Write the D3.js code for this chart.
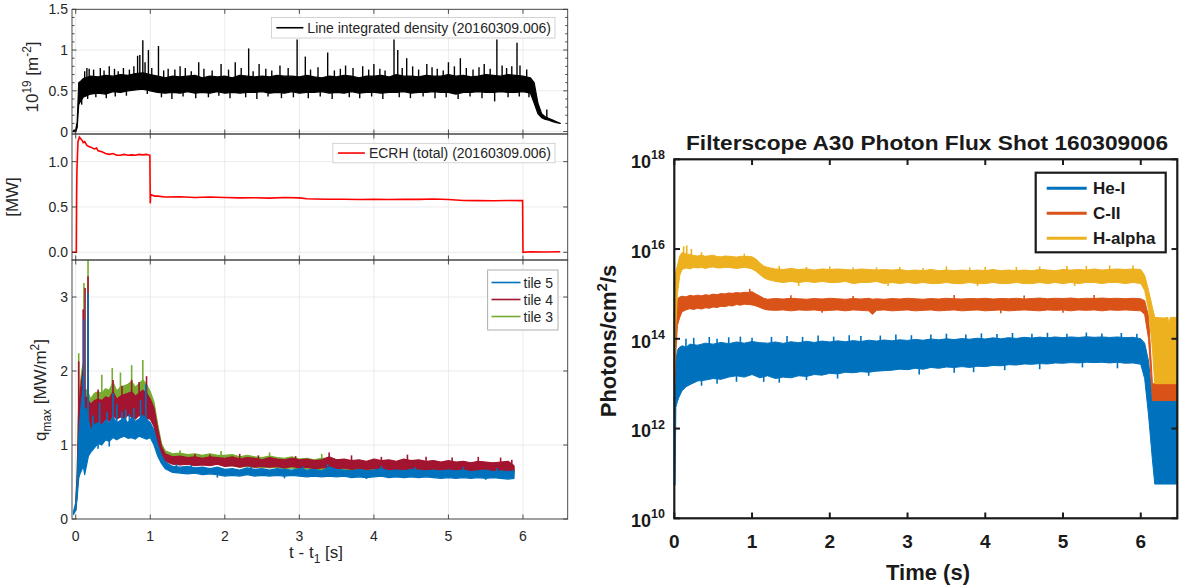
<!DOCTYPE html>
<html>
<head>
<meta charset="utf-8">
<script src="https://cdn.jsdelivr.net/npm/d3@7"></script>
<style>
  body { margin: 0; background: #fff; }
  svg { display: block; }
</style>
</head>
<body>
<svg width="1184" height="585"></svg>
<script>
// ---------------- data: left figure ----------------
const xTicksL = [0, 1, 2, 3, 4, 5, 6];
const densTicks = [0, 0.5, 1, 1.5];
const densTickLabels = ["0", "0.5", "1", "1.5"];
const ecrhTicks = [0, 0.5, 1];
const ecrhTickLabels = ["0.0", "0.5", "1.0"];
const qTicks = [0, 1, 2, 3];
const qTickLabels = ["0", "1", "2", "3"];

// line integrated density: [t, low, high] of the dense core of the noisy trace
const densBand = [
  [-0.03, 0, 0.015], [0.0, 0, 0.02], [0.02, 0.05, 0.12], [0.04, 0.33, 0.6], [0.07, 0.38, 0.62],
  [0.1, 0.42, 0.65], [0.2, 0.46, 0.68], [0.3, 0.47, 0.67], [0.4, 0.46, 0.69], [0.5, 0.49, 0.68],
  [0.6, 0.48, 0.7], [0.7, 0.5, 0.69], [0.8, 0.51, 0.71], [0.9, 0.52, 0.72], [1.0, 0.5, 0.7],
  [1.1, 0.48, 0.68], [1.2, 0.47, 0.66], [1.3, 0.48, 0.68], [1.4, 0.47, 0.67], [1.5, 0.49, 0.68],
  [1.6, 0.47, 0.69], [1.7, 0.48, 0.66], [1.8, 0.47, 0.68], [1.9, 0.49, 0.67], [2.0, 0.47, 0.68],
  [2.1, 0.48, 0.66], [2.2, 0.47, 0.69], [2.3, 0.48, 0.68], [2.4, 0.48, 0.67], [2.5, 0.49, 0.68],
  [2.6, 0.47, 0.67], [2.7, 0.48, 0.69], [2.8, 0.47, 0.68], [2.9, 0.49, 0.68], [3.0, 0.47, 0.67],
  [3.1, 0.48, 0.69], [3.2, 0.48, 0.67], [3.3, 0.49, 0.66], [3.4, 0.47, 0.68], [3.5, 0.48, 0.67],
  [3.6, 0.47, 0.69], [3.7, 0.49, 0.68], [3.8, 0.47, 0.66], [3.9, 0.48, 0.68], [4.0, 0.48, 0.68],
  [4.1, 0.47, 0.69], [4.2, 0.48, 0.67], [4.3, 0.48, 0.7], [4.4, 0.49, 0.68], [4.5, 0.47, 0.68],
  [4.6, 0.48, 0.67], [4.7, 0.48, 0.69], [4.8, 0.49, 0.68], [4.9, 0.48, 0.68], [5.0, 0.48, 0.7],
  [5.1, 0.46, 0.68], [5.2, 0.48, 0.69], [5.3, 0.48, 0.67], [5.4, 0.49, 0.68], [5.5, 0.48, 0.7],
  [5.6, 0.48, 0.69], [5.7, 0.49, 0.68], [5.8, 0.48, 0.7], [5.9, 0.48, 0.69], [6.0, 0.49, 0.68],
  [6.1, 0.47, 0.66], [6.15, 0.35, 0.6], [6.2, 0.22, 0.35], [6.25, 0.17, 0.22], [6.3, 0.15, 0.18],
  [6.35, 0.14, 0.16], [6.4, 0.12, 0.14], [6.45, 0.11, 0.12], [6.5, 0.1, 0.1]
];
// excursions of the density trace: [t, base, extreme]
const densSpikes = [
  [0.12, 0.6, 0.74], [0.15, 0.6, 0.78], [0.18, 0.6, 0.77], [0.24, 0.6, 0.76], [0.33, 0.6, 0.78],
  [0.38, 0.6, 0.75], [0.45, 0.6, 0.8], [0.52, 0.6, 0.77], [0.57, 0.6, 0.74], [0.64, 0.6, 0.78],
  [0.72, 0.6, 0.76], [0.78, 0.6, 0.8], [0.83, 0.6, 0.93], [0.86, 0.6, 0.94], [0.9, 0.6, 1.12],
  [0.93, 0.6, 0.85], [0.975, 0.6, 1.0], [1.02, 0.6, 0.78], [1.11, 0.6, 1.05], [1.18, 0.6, 0.75],
  [1.24, 0.6, 0.77], [1.33, 0.6, 0.76], [1.4, 0.6, 0.8], [1.47, 0.6, 0.78], [1.55, 0.6, 0.74],
  [1.65, 0.6, 0.85], [1.72, 0.6, 0.77], [1.83, 0.6, 0.75], [1.95, 0.6, 0.83], [2.05, 0.6, 0.76],
  [2.14, 0.6, 0.85], [2.22, 0.6, 0.78], [2.32, 0.6, 1.02], [2.38, 0.6, 0.74], [2.46, 0.6, 0.83],
  [2.55, 0.6, 0.77], [2.63, 0.6, 0.75], [2.74, 0.6, 0.81], [2.85, 0.6, 0.78], [2.97, 0.6, 1.13],
  [3.08, 0.6, 0.92], [3.15, 0.6, 0.76], [3.25, 0.6, 0.79], [3.38, 0.6, 0.97], [3.47, 0.6, 0.75],
  [3.55, 0.6, 0.77], [3.62, 0.6, 0.81], [3.72, 0.6, 0.78], [3.85, 0.6, 0.8], [3.93, 0.6, 0.76],
  [4.0, 0.6, 0.83], [4.08, 0.6, 0.77], [4.15, 0.6, 0.75], [4.27, 0.6, 1.13], [4.32, 0.6, 1.0],
  [4.38, 0.6, 0.78], [4.44, 0.6, 0.9], [4.52, 0.6, 0.8], [4.6, 0.6, 0.76], [4.71, 0.6, 0.83],
  [4.78, 0.6, 0.79], [4.85, 0.6, 0.77], [4.93, 0.6, 0.75], [5.0, 0.6, 0.85], [5.08, 0.6, 0.8],
  [5.16, 0.6, 0.9], [5.24, 0.6, 0.78], [5.33, 0.6, 0.76], [5.41, 0.6, 0.79], [5.48, 0.6, 0.83],
  [5.56, 0.6, 0.77], [5.65, 0.6, 1.13], [5.72, 0.6, 0.81], [5.78, 0.6, 0.78], [5.85, 0.6, 0.8],
  [5.92, 0.6, 1.09], [5.96, 0.6, 0.81], [6.05, 0.6, 0.76], [6.32, 0.15, 0.27],
  [0.08, 0.5, 0.33], [0.16, 0.5, 0.4], [0.27, 0.5, 0.42], [0.41, 0.5, 0.41], [0.53, 0.5, 0.43],
  [0.68, 0.5, 0.44], [0.96, 0.5, 0.46], [1.15, 0.5, 0.42], [1.29, 0.5, 0.4], [1.44, 0.5, 0.43],
  [1.61, 0.5, 0.41], [1.78, 0.5, 0.42], [1.92, 0.5, 0.44], [2.07, 0.5, 0.41], [2.28, 0.5, 0.42],
  [2.43, 0.5, 0.4], [2.58, 0.5, 0.43], [2.76, 0.5, 0.41], [2.92, 0.5, 0.42], [3.12, 0.5, 0.41],
  [3.28, 0.5, 0.43], [3.44, 0.5, 0.4], [3.67, 0.5, 0.42], [3.81, 0.5, 0.41], [3.97, 0.5, 0.43],
  [4.12, 0.5, 0.4], [4.34, 0.5, 0.42], [4.49, 0.5, 0.41], [4.66, 0.5, 0.43], [4.82, 0.5, 0.41],
  [4.97, 0.5, 0.42], [5.13, 0.5, 0.4], [5.29, 0.5, 0.43], [5.45, 0.5, 0.41], [5.62, 0.5, 0.37],
  [5.8, 0.5, 0.42], [5.95, 0.5, 0.43], [6.08, 0.5, 0.42]
];

// ECRH total power: [t, MW]
const ecrh = [
  [-0.05, 0], [0.008, 0], [0.012, 0.6], [0.016, 0.9], [0.03, 1.22], [0.05, 1.27], [0.07, 1.25],
  [0.09, 1.23], [0.1, 1.21], [0.12, 1.22], [0.15, 1.18], [0.17, 1.17], [0.2, 1.16], [0.25, 1.14],
  [0.28, 1.15], [0.3, 1.12], [0.35, 1.11], [0.4, 1.09], [0.45, 1.08], [0.5, 1.09], [0.55, 1.07],
  [0.6, 1.07], [0.65, 1.08], [0.7, 1.07], [0.75, 1.075], [0.8, 1.07], [0.85, 1.08], [0.9, 1.075],
  [0.95, 1.08], [0.995, 1.07], [1.0, 0.54], [1.005, 0.64], [1.03, 0.63], [1.06, 0.62], [1.1, 0.62],
  [1.2, 0.61], [1.4, 0.612], [1.6, 0.605], [1.8, 0.61], [2.0, 0.605], [2.2, 0.6], [2.4, 0.602],
  [2.6, 0.598], [2.8, 0.605], [3.0, 0.6], [3.1, 0.59], [3.2, 0.588], [3.4, 0.585], [3.6, 0.586],
  [3.8, 0.582], [4.0, 0.585], [4.2, 0.583], [4.4, 0.586], [4.6, 0.584], [4.8, 0.588], [5.0, 0.583],
  [5.2, 0.572], [5.4, 0.57], [5.6, 0.568], [5.8, 0.571], [5.995, 0.57], [6.0, 0.0], [6.1, 0.006],
  [6.3, 0.004], [6.5, 0.006]
];

// q_max per tile: [t, low, high] of the noisy traces
const tile5Band = [
  [-0.03, 0.06, 0.1], [0.0, 0.12, 0.22], [0.02, 0.3, 0.5], [0.04, 0.55, 1.1], [0.06, 0.62, 1.4],
  [0.08, 0.66, 1.6], [0.1, 0.72, 1.75], [0.12, 0.6, 1.4], [0.14, 0.7, 1.5], [0.17, 0.85, 1.35],
  [0.2, 0.9, 1.2], [0.25, 0.96, 1.28], [0.3, 1.02, 1.3], [0.35, 1.0, 1.27], [0.4, 1.07, 1.33],
  [0.45, 1.05, 1.3], [0.5, 1.1, 1.38], [0.55, 1.07, 1.3], [0.6, 1.1, 1.33], [0.65, 1.12, 1.36],
  [0.7, 1.09, 1.3], [0.75, 1.1, 1.37], [0.8, 1.08, 1.32], [0.85, 1.12, 1.35], [0.9, 1.1, 1.4],
  [0.95, 1.08, 1.35], [1.0, 1.1, 1.3], [1.05, 1.0, 1.2], [1.1, 0.85, 1.0], [1.15, 0.75, 0.86],
  [1.2, 0.68, 0.77], [1.3, 0.63, 0.71], [1.4, 0.62, 0.7], [1.5, 0.61, 0.71], [1.6, 0.62, 0.69],
  [1.7, 0.6, 0.7], [1.8, 0.61, 0.68], [1.9, 0.6, 0.7], [2.0, 0.58, 0.67], [2.1, 0.59, 0.68],
  [2.2, 0.58, 0.66], [2.3, 0.6, 0.69], [2.4, 0.58, 0.67], [2.5, 0.59, 0.68], [2.6, 0.58, 0.66],
  [2.7, 0.59, 0.68], [2.8, 0.58, 0.67], [2.9, 0.59, 0.66], [3.0, 0.58, 0.68], [3.1, 0.57, 0.66],
  [3.2, 0.58, 0.67], [3.3, 0.57, 0.65], [3.4, 0.58, 0.7], [3.5, 0.57, 0.67], [3.6, 0.58, 0.66],
  [3.7, 0.56, 0.65], [3.8, 0.57, 0.67], [3.9, 0.56, 0.65], [4.0, 0.57, 0.66], [4.1, 0.58, 0.68],
  [4.2, 0.56, 0.65], [4.3, 0.57, 0.66], [4.4, 0.56, 0.65], [4.5, 0.57, 0.67], [4.6, 0.56, 0.66],
  [4.7, 0.57, 0.65], [4.8, 0.56, 0.66], [4.9, 0.55, 0.65], [5.0, 0.56, 0.66], [5.1, 0.55, 0.65],
  [5.2, 0.56, 0.66], [5.3, 0.55, 0.64], [5.4, 0.56, 0.65], [5.5, 0.55, 0.66], [5.6, 0.56, 0.64],
  [5.7, 0.55, 0.65], [5.8, 0.54, 0.64], [5.88, 0.55, 0.65]
];
const tile4Band = [
  [0.0, 0.12, 0.2], [0.02, 0.35, 0.6], [0.04, 0.8, 1.5], [0.06, 0.75, 1.7], [0.08, 0.85, 1.9],
  [0.1, 0.9, 2.0], [0.12, 0.75, 1.6], [0.14, 0.9, 1.65], [0.17, 1.1, 1.6], [0.2, 1.2, 1.55],
  [0.25, 1.25, 1.6], [0.3, 1.3, 1.62], [0.35, 1.28, 1.6], [0.4, 1.35, 1.65], [0.45, 1.32, 1.63],
  [0.5, 1.4, 1.72], [0.55, 1.35, 1.62], [0.6, 1.38, 1.66], [0.65, 1.36, 1.68], [0.7, 1.4, 1.7],
  [0.75, 1.38, 1.72], [0.8, 1.35, 1.66], [0.85, 1.4, 1.7], [0.9, 1.38, 1.74], [0.95, 1.36, 1.7],
  [1.0, 1.35, 1.62], [1.05, 1.25, 1.5], [1.1, 1.0, 1.22], [1.15, 0.86, 0.98], [1.2, 0.78, 0.88],
  [1.3, 0.74, 0.84], [1.4, 0.73, 0.85], [1.5, 0.74, 0.83], [1.6, 0.72, 0.84], [1.7, 0.73, 0.82],
  [1.8, 0.72, 0.84], [1.9, 0.74, 0.83], [2.0, 0.71, 0.82], [2.1, 0.72, 0.84], [2.2, 0.7, 0.81],
  [2.3, 0.72, 0.83], [2.4, 0.7, 0.82], [2.5, 0.71, 0.8], [2.6, 0.7, 0.83], [2.7, 0.71, 0.81],
  [2.8, 0.69, 0.8], [2.9, 0.71, 0.82], [3.0, 0.69, 0.8], [3.1, 0.7, 0.81], [3.2, 0.68, 0.79],
  [3.3, 0.69, 0.8], [3.4, 0.7, 0.84], [3.5, 0.68, 0.8], [3.6, 0.69, 0.81], [3.7, 0.67, 0.79],
  [3.8, 0.68, 0.8], [3.9, 0.67, 0.78], [4.0, 0.68, 0.81], [4.1, 0.66, 0.79], [4.2, 0.67, 0.8],
  [4.3, 0.66, 0.78], [4.4, 0.67, 0.81], [4.5, 0.65, 0.79], [4.6, 0.66, 0.8], [4.7, 0.65, 0.78],
  [4.8, 0.66, 0.79], [4.9, 0.64, 0.77], [5.0, 0.65, 0.79], [5.1, 0.64, 0.77], [5.2, 0.65, 0.78],
  [5.3, 0.64, 0.76], [5.4, 0.65, 0.78], [5.5, 0.63, 0.77], [5.6, 0.64, 0.76], [5.7, 0.63, 0.77],
  [5.8, 0.63, 0.78], [5.88, 0.64, 0.72]
];
const tile3Band = [
  [0.0, 0.12, 0.2], [0.02, 0.35, 0.65], [0.04, 0.8, 1.6], [0.06, 0.75, 1.8], [0.08, 0.85, 2.0],
  [0.1, 0.9, 2.1], [0.12, 0.8, 1.7], [0.14, 0.95, 1.75], [0.17, 1.15, 1.7], [0.2, 1.25, 1.62],
  [0.25, 1.3, 1.7], [0.3, 1.32, 1.72], [0.35, 1.3, 1.7], [0.4, 1.37, 1.76], [0.45, 1.35, 1.74],
  [0.5, 1.42, 1.85], [0.55, 1.37, 1.73], [0.6, 1.4, 1.78], [0.65, 1.38, 1.8], [0.7, 1.42, 1.82],
  [0.75, 1.4, 1.86], [0.8, 1.37, 1.78], [0.85, 1.42, 1.83], [0.9, 1.4, 1.88], [0.95, 1.38, 1.82],
  [1.0, 1.37, 1.72], [1.05, 1.28, 1.58], [1.1, 1.02, 1.28], [1.15, 0.88, 1.02], [1.2, 0.8, 0.92],
  [1.3, 0.76, 0.88], [1.4, 0.75, 0.89], [1.5, 0.75, 0.87], [1.6, 0.73, 0.88], [1.7, 0.74, 0.86],
  [1.8, 0.73, 0.88], [1.9, 0.74, 0.86], [2.0, 0.72, 0.86], [2.1, 0.72, 0.87], [2.2, 0.7, 0.84],
  [2.3, 0.71, 0.86], [2.4, 0.7, 0.84], [2.5, 0.7, 0.83], [2.6, 0.69, 0.85], [2.7, 0.7, 0.83],
  [2.8, 0.68, 0.82], [2.9, 0.69, 0.84], [3.0, 0.67, 0.81], [3.1, 0.68, 0.82], [3.2, 0.66, 0.8],
  [3.3, 0.67, 0.82], [3.4, 0.67, 0.82], [3.5, 0.65, 0.8], [3.6, 0.66, 0.8], [3.7, 0.64, 0.78],
  [3.8, 0.65, 0.79], [3.9, 0.64, 0.77], [4.0, 0.64, 0.79], [4.1, 0.63, 0.77], [4.2, 0.63, 0.78],
  [4.3, 0.62, 0.76], [4.4, 0.63, 0.78], [4.5, 0.61, 0.76], [4.6, 0.62, 0.77], [4.7, 0.61, 0.75],
  [4.8, 0.62, 0.76], [4.9, 0.6, 0.74], [5.0, 0.61, 0.76], [5.1, 0.6, 0.74], [5.2, 0.61, 0.75],
  [5.3, 0.6, 0.73], [5.4, 0.61, 0.75], [5.5, 0.6, 0.74], [5.6, 0.6, 0.73], [5.7, 0.6, 0.74],
  [5.8, 0.59, 0.74], [5.88, 0.6, 0.7]
];
// excursions: [t, base, extreme]
const tile5Spikes = [
  [0.1, 1.2, 1.93], [0.11, 1.0, 2.7], [0.165, 1.0, 3.05], [0.23, 1.1, 1.4], [0.32, 1.2, 1.57],
  [0.42, 1.2, 1.45], [0.5, 1.2, 1.7], [0.55, 1.2, 1.55], [0.62, 1.2, 1.45], [0.67, 1.2, 1.48],
  [0.72, 1.2, 1.42], [0.78, 1.2, 1.5], [0.87, 1.2, 1.61], [0.94, 1.2, 1.82], [0.3, 1.15, 0.95],
  [0.45, 1.15, 0.98], [1.35, 0.65, 0.74], [1.55, 0.65, 0.73], [2.35, 0.62, 0.71], [3.05, 0.62, 0.71],
  [3.38, 0.6, 0.74], [4.1, 0.62, 0.72], [4.55, 0.6, 0.7], [5.2, 0.6, 0.7], [5.65, 0.6, 0.69],
  [1.9, 0.62, 0.56], [2.8, 0.6, 0.55], [3.9, 0.6, 0.54], [5.5, 0.58, 0.53]
];
const tile4Spikes = [
  [0.04, 1.2, 2.13], [0.1, 1.5, 2.83], [0.125, 1.3, 3.12], [0.165, 1.3, 3.28], [0.3, 1.4, 1.75],
  [0.5, 1.5, 1.88], [0.62, 1.5, 1.8], [0.75, 1.5, 1.88], [0.85, 1.5, 1.85], [0.95, 1.5, 1.93],
  [1.6, 0.75, 0.88], [1.8, 0.75, 0.87], [2.2, 0.75, 0.88], [2.45, 0.75, 0.86], [2.95, 0.72, 0.85],
  [3.4, 0.75, 0.9], [3.7, 0.72, 0.86], [4.1, 0.7, 0.84], [4.45, 0.7, 0.87], [4.7, 0.7, 0.84],
  [5.05, 0.7, 0.83], [5.4, 0.7, 0.84], [5.7, 0.68, 0.83], [5.85, 0.7, 0.8]
];
const tile3Spikes = [
  [0.04, 1.3, 2.24], [0.11, 1.6, 3.19], [0.165, 1.6, 3.5], [0.35, 1.6, 1.95], [0.49, 1.6, 2.04],
  [0.6, 1.6, 1.98], [0.75, 1.6, 2.08], [0.9, 1.6, 2.15], [1.4, 0.8, 0.93], [1.95, 0.8, 0.92],
  [2.6, 0.8, 0.9], [3.3, 0.75, 0.88]
];

// ---------------- data: right figure ----------------
const xTicksR = [0, 1, 2, 3, 4, 5, 6];
const yExpR = [10, 12, 14, 16, 18];
const fluxNames = ["He-I", "C-II", "H-alpha"];

// photon flux [t, low, high] of the noisy traces (photons/cm^2/s)
const heBand = [
  [0.0, 5.5e10, 4.2e12], [0.01, 5.5e10, 1.0e13], [0.02, 3.0e12, 3.2e13], [0.04, 4.0e12, 5.5e13],
  [0.06, 5.0e12, 6.3e13], [0.1, 7.0e12, 7.0e13], [0.15, 8.5e12, 6.5e13], [0.2, 9.5e12, 7.6e13],
  [0.3, 1.15e13, 7.2e13], [0.4, 1.2e13, 8.0e13], [0.5, 1.3e13, 7.6e13], [0.6, 1.25e13, 8.3e13],
  [0.7, 1.4e13, 7.8e13], [0.8, 1.5e13, 8.5e13], [0.9, 1.4e13, 8.0e13], [1.0, 1.6e13, 8.7e13],
  [1.1, 1.35e13, 8.2e13], [1.2, 1.5e13, 8.0e13], [1.3, 1.3e13, 8.5e13], [1.4, 1.4e13, 7.9e13],
  [1.5, 1.35e13, 8.6e13], [1.6, 1.5e13, 8.2e13], [1.7, 1.45e13, 8.8e13], [1.8, 1.6e13, 8.3e13],
  [1.9, 1.55e13, 8.9e13], [2.0, 1.7e13, 8.5e13], [2.1, 1.65e13, 9.0e13], [2.2, 1.8e13, 8.6e13],
  [2.3, 1.75e13, 9.1e13], [2.4, 1.85e13, 8.7e13], [2.5, 1.8e13, 9.3e13], [2.6, 1.9e13, 8.9e13],
  [2.7, 1.95e13, 9.4e13], [2.8, 2.0e13, 9.0e13], [2.9, 2.1e13, 9.5e13], [3.0, 2.05e13, 9.2e13],
  [3.1, 2.2e13, 9.7e13], [3.2, 2.1e13, 9.3e13], [3.3, 2.3e13, 9.9e13], [3.4, 2.2e13, 9.5e13],
  [3.5, 2.35e13, 1.0e14], [3.6, 2.3e13, 9.6e13], [3.7, 2.4e13, 1.01e14], [3.8, 2.3e13, 9.8e13],
  [3.9, 2.45e13, 1.03e14], [4.0, 2.4e13, 9.9e13], [4.1, 2.55e13, 1.05e14], [4.2, 2.5e13, 1.0e14],
  [4.3, 2.65e13, 1.06e14], [4.4, 2.6e13, 1.02e14], [4.5, 2.75e13, 1.08e14], [4.6, 2.7e13, 1.04e14],
  [4.7, 2.8e13, 1.09e14], [4.8, 2.75e13, 1.05e14], [4.9, 2.9e13, 1.1e14], [5.0, 2.85e13, 1.06e14],
  [5.1, 2.95e13, 1.1e14], [5.2, 2.9e13, 1.07e14], [5.3, 3.0e13, 1.11e14], [5.4, 2.95e13, 1.08e14],
  [5.5, 3.0e13, 1.1e14], [5.6, 2.9e13, 1.07e14], [5.7, 3.0e13, 1.1e14], [5.8, 2.85e13, 1.06e14],
  [5.9, 2.9e13, 1.08e14], [6.0, 2.7e13, 1.0e14], [6.05, 1.3e13, 8.0e13], [6.1, 2.0e12, 3.2e13],
  [6.15, 2.0e11, 4.2e12], [6.18, 5.8e10, 4.2e12], [6.47, 5.8e10, 4.2e12]
];
const cBand = [
  [0.0, 4.2e12, 5.0e14], [0.02, 5.0e13, 6.5e14], [0.04, 2.0e14, 7.8e14], [0.07, 3.0e14, 8.5e14],
  [0.1, 4.0e14, 8.9e14], [0.15, 4.4e14, 8.6e14], [0.2, 4.7e14, 9.3e14], [0.25, 4.5e14, 9.0e14],
  [0.3, 4.8e14, 9.4e14], [0.35, 4.6e14, 9.1e14], [0.4, 4.9e14, 9.6e14], [0.45, 4.8e14, 9.3e14],
  [0.5, 5.1e14, 9.9e14], [0.55, 5.0e14, 9.6e14], [0.6, 5.3e14, 1.02e15], [0.65, 5.2e14, 1.0e15],
  [0.7, 5.5e14, 1.05e15], [0.75, 5.4e14, 1.03e15], [0.8, 5.8e14, 1.07e15], [0.85, 5.6e14, 1.05e15],
  [0.9, 5.9e14, 1.09e15], [0.95, 5.8e14, 1.08e15], [1.0, 5.7e14, 1.12e15], [1.05, 5.4e14, 1.0e15],
  [1.1, 5.0e14, 9.0e14], [1.15, 4.6e14, 8.0e14], [1.2, 4.4e14, 7.6e14], [1.3, 4.3e14, 7.9e14],
  [1.4, 4.4e14, 7.7e14], [1.5, 4.2e14, 8.0e14], [1.6, 4.4e14, 7.8e14], [1.7, 4.3e14, 7.6e14],
  [1.8, 4.4e14, 7.9e14], [1.9, 4.2e14, 7.7e14], [2.0, 4.3e14, 8.0e14], [2.1, 4.4e14, 7.8e14],
  [2.2, 4.2e14, 7.6e14], [2.3, 4.4e14, 7.9e14], [2.4, 4.3e14, 7.7e14], [2.5, 4.2e14, 8.0e14],
  [2.55, 3.5e14, 7.6e14], [2.6, 4.3e14, 7.8e14], [2.7, 4.4e14, 7.6e14], [2.8, 4.2e14, 7.9e14],
  [2.9, 4.3e14, 7.7e14], [3.0, 4.4e14, 8.0e14], [3.1, 4.2e14, 7.8e14], [3.2, 4.3e14, 7.6e14],
  [3.3, 4.4e14, 7.9e14], [3.4, 4.2e14, 7.7e14], [3.5, 4.3e14, 8.0e14], [3.6, 4.4e14, 7.8e14],
  [3.7, 4.2e14, 7.7e14], [3.8, 4.3e14, 7.9e14], [3.9, 4.4e14, 7.8e14], [4.0, 4.2e14, 8.0e14],
  [4.1, 4.3e14, 7.7e14], [4.2, 4.4e14, 7.9e14], [4.3, 4.2e14, 7.8e14], [4.4, 4.3e14, 8.0e14],
  [4.5, 4.4e14, 7.7e14], [4.6, 4.3e14, 7.9e14], [4.7, 4.2e14, 8.1e14], [4.8, 4.4e14, 7.8e14],
  [4.9, 4.3e14, 8.0e14], [5.0, 4.4e14, 7.9e14], [5.1, 4.2e14, 8.1e14], [5.2, 4.4e14, 7.8e14],
  [5.3, 4.3e14, 8.0e14], [5.4, 4.4e14, 7.9e14], [5.5, 4.2e14, 8.1e14], [5.6, 4.4e14, 7.9e14],
  [5.7, 4.3e14, 8.0e14], [5.8, 4.4e14, 7.8e14], [5.9, 4.3e14, 8.0e14], [6.0, 4.2e14, 7.8e14],
  [6.05, 3.5e14, 7.1e14], [6.1, 1.0e14, 3.2e14], [6.15, 4.2e12, 1.0e13], [6.47, 4.2e12, 1.0e13]
];
const hBand = [
  [0.0, 1.0e13, 2.4e15], [0.02, 2.0e14, 3.2e15], [0.04, 1.0e15, 4.3e15], [0.07, 2.6e15, 7.0e15],
  [0.1, 3.5e15, 8.4e15], [0.15, 3.8e15, 7.8e15], [0.2, 3.6e15, 7.6e15], [0.25, 3.9e15, 7.2e15],
  [0.3, 3.8e15, 7.0e15], [0.35, 3.9e15, 7.3e15], [0.4, 3.7e15, 6.9e15], [0.45, 3.9e15, 7.1e15],
  [0.5, 4.0e15, 7.3e15], [0.55, 3.8e15, 6.8e15], [0.6, 3.8e15, 6.7e15], [0.65, 3.9e15, 7.0e15],
  [0.7, 3.9e15, 6.9e15], [0.75, 3.8e15, 6.8e15], [0.8, 3.7e15, 6.6e15], [0.85, 3.8e15, 6.9e15],
  [0.9, 3.9e15, 6.8e15], [0.95, 3.8e15, 6.9e15], [1.0, 3.6e15, 6.7e15], [1.05, 3.2e15, 6.0e15],
  [1.1, 2.7e15, 4.9e15], [1.15, 2.3e15, 4.2e15], [1.2, 2.1e15, 3.9e15], [1.3, 1.9e15, 3.6e15],
  [1.4, 1.8e15, 3.5e15], [1.5, 1.9e15, 3.7e15], [1.6, 1.8e15, 3.5e15], [1.7, 1.9e15, 3.6e15],
  [1.8, 1.8e15, 3.4e15], [1.9, 1.9e15, 3.6e15], [2.0, 1.8e15, 3.5e15], [2.1, 1.8e15, 3.6e15],
  [2.2, 1.9e15, 3.5e15], [2.3, 1.7e15, 3.4e15], [2.4, 1.8e15, 3.6e15], [2.5, 1.8e15, 3.5e15],
  [2.6, 1.9e15, 3.4e15], [2.7, 1.7e15, 3.5e15], [2.8, 1.8e15, 3.4e15], [2.9, 1.7e15, 3.5e15],
  [3.0, 1.8e15, 3.3e15], [3.1, 1.7e15, 3.4e15], [3.2, 1.8e15, 3.3e15], [3.3, 1.7e15, 3.5e15],
  [3.4, 1.7e15, 3.3e15], [3.5, 1.8e15, 3.4e15], [3.6, 1.7e15, 3.3e15], [3.7, 1.7e15, 3.4e15],
  [3.8, 1.8e15, 3.3e15], [3.9, 1.7e15, 3.4e15], [4.0, 1.7e15, 3.3e15], [4.1, 1.8e15, 3.5e15],
  [4.2, 1.7e15, 3.3e15], [4.3, 1.7e15, 3.4e15], [4.4, 1.8e15, 3.3e15], [4.5, 1.7e15, 3.4e15],
  [4.6, 1.7e15, 3.3e15], [4.7, 1.8e15, 3.5e15], [4.8, 1.7e15, 3.4e15], [4.9, 1.8e15, 3.3e15],
  [5.0, 1.7e15, 3.5e15], [5.1, 1.8e15, 3.4e15], [5.2, 1.7e15, 3.5e15], [5.3, 1.8e15, 3.4e15],
  [5.4, 1.8e15, 3.6e15], [5.5, 1.7e15, 3.4e15], [5.6, 1.8e15, 3.5e15], [5.7, 1.8e15, 3.6e15],
  [5.8, 1.7e15, 3.5e15], [5.9, 1.8e15, 3.6e15], [6.0, 1.7e15, 3.5e15], [6.05, 1.2e15, 2.6e15],
  [6.1, 4.5e14, 1.2e15], [6.15, 6.0e13, 5.0e14], [6.18, 1.0e13, 3.0e14], [6.3, 1.0e13, 2.9e14],
  [6.35, 1.0e13, 3.0e14], [6.36, 1.0e13, 2.0e14], [6.38, 1.0e13, 3.0e14], [6.47, 1.0e13, 3.0e14]
];
// excursions: [t, base, extreme]
const heSpikes = [
  [0.15, 6e13, 1.0e14], [0.25, 6e13, 1.05e14], [0.45, 6e13, 1.1e14], [0.55, 6e13, 1.0e14],
  [0.7, 6e13, 1.08e14], [0.85, 6e13, 1.12e14], [1.0, 6e13, 1.05e14], [1.25, 6e13, 1.1e14],
  [1.45, 6e13, 1.15e14], [1.65, 6e13, 1.1e14], [1.85, 6e13, 1.18e14], [2.05, 6e13, 1.12e14],
  [2.25, 6e13, 1.2e14], [2.4, 6e13, 1.15e14], [2.65, 6e13, 1.18e14], [2.85, 6e13, 1.25e14],
  [3.05, 6e13, 1.2e14], [3.3, 6e13, 1.25e14], [3.5, 6e13, 1.3e14], [3.75, 6e13, 1.25e14],
  [3.95, 6e13, 1.32e14], [4.15, 6e13, 1.28e14], [4.35, 6e13, 1.35e14], [4.6, 6e13, 1.3e14],
  [4.8, 6e13, 1.36e14], [5.05, 6e13, 1.3e14], [5.3, 6e13, 1.38e14], [5.5, 6e13, 1.32e14],
  [5.75, 6e13, 1.35e14], [5.95, 6e13, 1.3e14],
  [0.35, 4e13, 9e12], [0.55, 4e13, 1.0e13], [0.8, 4e13, 1.1e13], [1.15, 4e13, 1.1e13],
  [1.35, 4e13, 1.05e13], [1.7, 4e13, 1.2e13], [2.1, 4e13, 1.3e13], [2.5, 4e13, 1.5e13],
  [3.15, 4e13, 1.6e13], [3.6, 4e13, 1.75e13], [3.85, 4e13, 1.8e13], [4.25, 4e13, 2.0e13],
  [4.7, 4e13, 2.1e13], [5.25, 4e13, 2.3e13], [5.7, 4e13, 2.2e13]
];
const cSpikes = [
  [0.97, 8e14, 1.3e15], [1.5, 6e14, 9.3e14], [2.3, 6e14, 9.0e14], [3.6, 6e14, 9.5e14],
  [4.5, 6e14, 9.2e14], [5.4, 6e14, 9.5e14], [1.9, 6e14, 3.8e14], [4.2, 6e14, 3.7e14], [5.0, 6e14, 3.8e14]
];
const hSpikes = [
  [0.12, 7e15, 1.15e16], [0.16, 7e15, 1.2e16], [0.22, 7e15, 1.0e16], [0.35, 6.5e15, 8.5e15],
  [0.9, 6e15, 7.9e15], [1.35, 2.5e15, 4.2e15], [1.7, 2.5e15, 4.0e15], [2.0, 2.5e15, 4.1e15],
  [2.3, 2.5e15, 3.9e15], [2.6, 2.5e15, 3.9e15], [2.9, 2.5e15, 4.0e15], [3.2, 2.5e15, 3.8e15],
  [3.5, 2.5e15, 4.1e15], [3.8, 2.5e15, 3.9e15], [4.0, 2.5e15, 4.0e15], [4.4, 2.5e15, 4.0e15],
  [4.7, 2.5e15, 4.1e15], [5.05, 2.5e15, 4.2e15], [5.3, 2.5e15, 4.2e15], [5.6, 2.5e15, 4.3e15],
  [5.9, 2.5e15, 4.3e15], [1.6, 2.5e15, 1.5e15], [2.75, 2.5e15, 1.5e15], [3.9, 2.5e15, 1.5e15],
  [5.15, 2.5e15, 1.5e15]
];

// ---------------- drawing ----------------
const svg = d3.select("svg");
const fontL = "'Liberation Sans', Arial, sans-serif";
const axisGray = "#262626";

// left figure scales
const xL = d3.scaleLinear().domain([-0.05, 6.6]).range([72, 567.7]);
const panels = [
  { y: d3.scaleLinear().domain([-0.03, 1.5]).range([134, 9.3]), ticks: densTicks, labels: densTickLabels, minor: true },
  { y: d3.scaleLinear().domain([-0.085, 1.305]).range([260, 134]), ticks: ecrhTicks, labels: ecrhTickLabels },
  { y: d3.scaleLinear().domain([0, 3.5]).range([519, 260]), ticks: qTicks, labels: qTickLabels }
];
const [pDens, pEcrh, pQ] = panels;

// grid per panel
panels.forEach(p => {
  const [yb, yt] = p.y.range();
  const g = svg.append("g");
  g.selectAll(".gx").data(xTicksL).join("line")
    .attr("x1", d => xL(d)).attr("x2", d => xL(d)).attr("y1", yt).attr("y2", yb)
    .attr("stroke", "#e6e6e6").attr("stroke-width", 0.8);
  g.selectAll(".gy").data(p.ticks).join("line")
    .attr("x1", 72).attr("x2", 567.7).attr("y1", d => p.y(d)).attr("y2", d => p.y(d))
    .attr("stroke", "#e6e6e6").attr("stroke-width", 0.8);
});

const band = (xs, ys) => d3.area().x(d => xs(d[0])).y0(d => ys(d[1])).y1(d => ys(d[2]));
const drawBand = (data, xs, ys, color, sw) => {
  svg.append("path").datum(data).attr("d", band(xs, ys))
    .attr("fill", color).attr("stroke", color).attr("stroke-width", sw).attr("stroke-linejoin", "round");
};
const drawSpikes = (data, xs, ys, color, sw) => {
  svg.append("g").selectAll("line").data(data).join("line")
    .attr("x1", d => xs(d[0])).attr("x2", d => xs(d[0]))
    .attr("y1", d => ys(d[1])).attr("y2", d => ys(d[2]))
    .attr("stroke", color).attr("stroke-width", sw);
};

// density
drawBand(densBand, xL, pDens.y, "#000", 1.2);
drawSpikes(densSpikes, xL, pDens.y, "#000", 1.4);

// ECRH
svg.append("path").datum(ecrh)
  .attr("d", d3.line().x(d => xL(d[0])).y(d => pEcrh.y(d[1])))
  .attr("fill", "none").attr("stroke", "#ff0000").attr("stroke-width", 1.6);

// tiles (tile 3 below, tile 5 on top)
const tileColors = { t5: "#0072BD", t4: "#A2142F", t3: "#77AC30" };
drawBand(tile3Band, xL, pQ.y, tileColors.t3, 1.2);
drawSpikes(tile3Spikes, xL, pQ.y, tileColors.t3, 1.6);
drawBand(tile4Band, xL, pQ.y, tileColors.t4, 1.2);
drawSpikes(tile4Spikes, xL, pQ.y, tileColors.t4, 1.6);
drawBand(tile5Band, xL, pQ.y, tileColors.t5, 1.2);
drawSpikes(tile5Spikes, xL, pQ.y, tileColors.t5, 1.6);

// frames, ticks, labels
panels.forEach(p => {
  const [yb, yt] = p.y.range();
  const g = svg.append("g").attr("font-family", fontL).attr("font-size", 14).attr("fill", axisGray);
  const yTickVals = p.minor ? d3.range(0, 1.5001, 0.1) : p.ticks;
  yTickVals.forEach(v => {
    const len = p.minor && Math.abs(v * 2 - Math.round(v * 2)) > 1e-6 ? 2.5 : 4.5;
    g.append("line").attr("x1", 72).attr("x2", 72 + len).attr("y1", p.y(v)).attr("y2", p.y(v)).attr("stroke", axisGray).attr("stroke-width", 0.8);
    g.append("line").attr("x1", 567.7).attr("x2", 567.7 - len).attr("y1", p.y(v)).attr("y2", p.y(v)).attr("stroke", axisGray).attr("stroke-width", 0.8);
  });
  xTicksL.forEach(t => {
    g.append("line").attr("x1", xL(t)).attr("x2", xL(t)).attr("y1", yt).attr("y2", yt + 4.5).attr("stroke", axisGray).attr("stroke-width", 0.8);
    g.append("line").attr("x1", xL(t)).attr("x2", xL(t)).attr("y1", yb).attr("y2", yb - 4.5).attr("stroke", axisGray).attr("stroke-width", 0.8);
  });
  g.selectAll("text.yl").data(p.ticks).join("text")
    .attr("x", 68).attr("y", d => p.y(d)).attr("dy", "0.36em").attr("text-anchor", "end")
    .text((d, i) => p.labels[i]);
  g.append("rect").attr("x", 72).attr("y", yt).attr("width", 567.7 - 72).attr("height", yb - yt)
    .attr("fill", "none").attr("stroke", "#3a3a3a").attr("stroke-width", 0.9);
});

// x tick labels (bottom panel)
svg.append("g").attr("font-family", fontL).attr("font-size", 14).attr("fill", axisGray)
  .selectAll("text").data(xTicksL).join("text")
  .attr("x", d => xL(d)).attr("y", 541).attr("text-anchor", "middle").text(d => d);

// axis titles (left)
function richText(parent, parts, size) {
  const t = parent.append("text").attr("font-family", fontL).attr("font-size", size).attr("fill", axisGray).attr("text-anchor", "middle");
  let shift = 0;
  parts.forEach(([s, mode]) => {
    const target = mode === "sup" ? -0.42 * size : mode === "sub" ? 0.28 * size : 0;
    t.append("tspan").attr("dy", target - shift).attr("font-size", mode ? size * 0.7 : size).text(s);
    shift = target;
  });
  return t;
}
richText(svg.append("g").attr("transform", "translate(38,77) rotate(-90)"),
  [["10"], ["19", "sup"], [" [m"], ["-2", "sup"], ["]"]], 17);
richText(svg.append("g").attr("transform", "translate(18,197) rotate(-90)"), [["[MW]"]], 17);
richText(svg.append("g").attr("transform", "translate(46,390) rotate(-90)"),
  [["q"], ["max", "sub"], [" [MW/m"], ["2", "sup"], ["]"]], 17);
richText(svg.append("g").attr("transform", "translate(316,558)"),
  [["t - t"], ["1", "sub"], [" [s]"]], 17);

// left legends
function lineLegend(xRight, yTop, h, label, color) {
  const g = svg.append("g").attr("font-family", fontL).attr("font-size", 14).attr("fill", axisGray);
  const box = g.append("rect");
  const txt = g.append("text").attr("x", xRight - 4).attr("y", yTop + h / 2).attr("dy", "0.36em").attr("text-anchor", "end").text(label);
  const w = txt.node().getComputedTextLength();
  const x0 = xRight - 4 - w;
  g.append("line").attr("x1", x0 - 31).attr("x2", x0 - 4).attr("y1", yTop + h / 2).attr("y2", yTop + h / 2).attr("stroke", color).attr("stroke-width", 1.6);
  box.attr("x", x0 - 36).attr("y", yTop).attr("width", xRight - x0 + 36).attr("height", h)
    .attr("fill", "#fff").attr("stroke", "#c8c8c8").attr("stroke-width", 0.8);
}
lineLegend(555, 17.5, 20.5, "Line integrated density (20160309.006)", "#000");
lineLegend(555, 143.3, 19.5, "ECRH (total) (20160309.006)", "#ff0000");

const tileNames = ["tile 5", "tile 4", "tile 3"];
const tileLegendColors = ["#0072BD", "#A2142F", "#77AC30"];
{
  const g = svg.append("g").attr("font-family", fontL).attr("font-size", 14).attr("fill", axisGray);
  g.append("rect").attr("x", 487.7).attr("y", 270).attr("width", 70.3).attr("height", 60)
    .attr("fill", "#fff").attr("stroke", "#9a9a9a").attr("stroke-width", 0.8);
  tileNames.forEach((n, i) => {
    const cy = 282.5 + i * 17;
    g.append("line").attr("x1", 491.5).attr("x2", 520.5).attr("y1", cy).attr("y2", cy).attr("stroke", tileLegendColors[i]).attr("stroke-width", 1.6);
    g.append("text").attr("x", 523.5).attr("y", cy).attr("dy", "0.36em").text(n);
  });
}

// ---------------- right figure ----------------
const xR = d3.scaleLinear().domain([0, 6.47]).range([674.3, 1177.3]);
const yR = d3.scaleLog().domain([1e10, 1e18]).range([518.3, 159.3]);
const fluxColors = ["#0072BD", "#D95319", "#EDB120"];

drawBand(heBand, xR, yR, fluxColors[0], 1);
drawSpikes(heSpikes, xR, yR, fluxColors[0], 1.6);
drawBand(cBand, xR, yR, fluxColors[1], 1);
drawSpikes(cSpikes, xR, yR, fluxColors[1], 1.6);
drawBand(hBand, xR, yR, fluxColors[2], 1);
drawSpikes(hSpikes, xR, yR, fluxColors[2], 1.6);

const gR = svg.append("g").attr("font-family", fontL).attr("font-weight", "bold").attr("fill", "#1a1a1a");
gR.append("rect").attr("x", 674.3).attr("y", 159.3).attr("width", 1177.3 - 674.3).attr("height", 518.3 - 159.3)
  .attr("fill", "none").attr("stroke", "#1a1a1a").attr("stroke-width", 2.2);
xTicksR.forEach(t => {
  gR.append("line").attr("x1", xR(t)).attr("x2", xR(t)).attr("y1", 518.3).attr("y2", 512.5).attr("stroke", "#1a1a1a").attr("stroke-width", 2);
  gR.append("line").attr("x1", xR(t)).attr("x2", xR(t)).attr("y1", 159.3).attr("y2", 165).attr("stroke", "#1a1a1a").attr("stroke-width", 2);
});
yExpR.forEach(e => {
  const y = yR(Math.pow(10, e));
  gR.append("line").attr("x1", 674.3).attr("x2", 680).attr("y1", y).attr("y2", y).attr("stroke", "#1a1a1a").attr("stroke-width", 2);
  gR.append("line").attr("x1", 1177.3).attr("x2", 1171.5).attr("y1", y).attr("y2", y).attr("stroke", "#1a1a1a").attr("stroke-width", 2);
  const t = gR.append("text").attr("x", 665).attr("y", y + 8.7).attr("text-anchor", "end").attr("font-size", 18);
  t.append("tspan").text("10");
  t.append("tspan").attr("dy", -8.7).attr("font-size", 12.5).text(e);
});
gR.selectAll("text.xt").data(xTicksR).join("text")
  .attr("x", d => xR(d)).attr("y", 548.3).attr("text-anchor", "middle").attr("font-size", 19).text(d => d);

gR.append("text").attr("x", 927).attr("y", 150).attr("text-anchor", "middle").attr("font-size", 20)
  .attr("textLength", 482).attr("lengthAdjust", "spacingAndGlyphs")
  .text("Filterscope A30 Photon Flux Shot 160309006");
gR.append("text").attr("x", 928).attr("y", 580).attr("text-anchor", "middle").attr("font-size", 22).text("Time (s)");
{
  const t = gR.append("text").attr("transform", "translate(616,341) rotate(-90)").attr("text-anchor", "middle").attr("font-size", 22);
  t.append("tspan").text("Photons/cm");
  t.append("tspan").attr("dy", -9).attr("font-size", 15).text("2");
  t.append("tspan").attr("dy", 9).text("/s");
}

// right legend
{
  const g = gR.append("g");
  g.append("rect").attr("x", 1035.7).attr("y", 172.7).attr("width", 130).attr("height", 79.6)
    .attr("fill", "#fff").attr("stroke", "#1a1a1a").attr("stroke-width", 2.2);
  fluxNames.forEach((n, i) => {
    const cy = 188.3 + i * 25;
    g.append("line").attr("x1", 1046.7).attr("x2", 1086.7).attr("y1", cy).attr("y2", cy)
      .attr("stroke", fluxColors[i]).attr("stroke-width", 3);
    g.append("text").attr("x", 1093).attr("y", cy).attr("dy", "0.36em").attr("font-size", 17).text(n);
  });
}
</script>
</body>
</html>
